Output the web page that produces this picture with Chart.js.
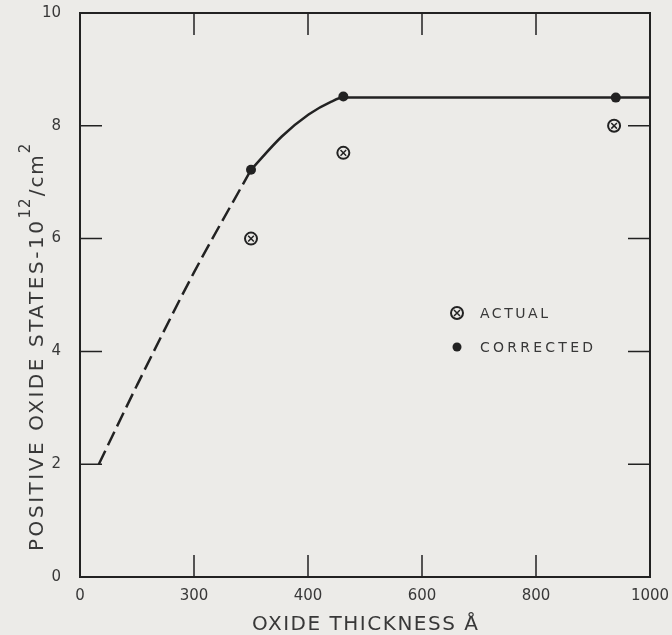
<!DOCTYPE html>
<html>
<head>
<meta charset="utf-8">
<script src="https://cdn.jsdelivr.net/npm/chart.js@4/dist/chart.umd.min.js"></script>
<style>
  html, body { margin: 0; padding: 0; background: #ecebe8; }
  #wrap { width: 672px; height: 635px; }
</style>
</head>
<body>
<div id="wrap"><canvas id="chart" width="672" height="635"></canvas></div>
<script>
// values
const xTickLabels = ['0', '300', '400', '600', '800', '1000'];
const yTickLabels = ['0', '2', '4', '6', '8', '10'];

const actualX = [300, 462, 937];
const actualY = [6.0, 7.52, 8.0];
const correctedX = [300, 462, 940];
const correctedY = [7.22, 8.52, 8.5];

// fitted curve: dashed lower part, solid upper part
const dashedX = [33, 100, 200, 300];
const dashedY = [2.0, 3.4, 5.4, 7.22];
const solidX = [300, 354, 401, 441, 462, 1000];
const solidY = [7.22, 7.81, 8.2, 8.43, 8.5, 8.5];

const ink = '#222';
const textInk = '#383838';
const FONT = '"DejaVu Sans"';
const pts = (xs, ys) => xs.map((x, i) => ({ x: x, y: ys[i] }));

// write text spread out to a given width (lettering on the original is wide)
function spaced(ctx, text, x, y, width) {
  ctx.letterSpacing = '0px';
  const w = ctx.measureText(text).width;
  const sp = Math.max(0, (width - w) / Math.max(1, text.length - 1));
  ctx.letterSpacing = sp + 'px';
  ctx.fillText(text, x, y);
  const out = ctx.measureText(text).width - sp;
  ctx.letterSpacing = '0px';
  return out + sp;
}

const framePlugin = {
  id: 'frame',
  afterDraw(chart) {
    const { ctx, chartArea: a, scales } = chart;
    ctx.save();
    ctx.strokeStyle = ink;
    ctx.lineWidth = 2;
    ctx.strokeRect(a.left, a.top, a.right - a.left, a.bottom - a.top);

    // inward ticks on all four sides
    ctx.lineWidth = 1.5;
    const len = 22;
    scales.x.ticks.forEach(t => {
      if (t.value <= 0 || t.value >= 1000) return;
      const px = scales.x.getPixelForValue(t.value);
      ctx.beginPath();
      ctx.moveTo(px, a.bottom); ctx.lineTo(px, a.bottom - len);
      ctx.moveTo(px, a.top); ctx.lineTo(px, a.top + len);
      ctx.stroke();
    });
    scales.y.ticks.forEach(t => {
      if (t.value <= 0 || t.value >= 10) return;
      const py = scales.y.getPixelForValue(t.value);
      ctx.beginPath();
      ctx.moveTo(a.left, py); ctx.lineTo(a.left + len, py);
      ctx.moveTo(a.right, py); ctx.lineTo(a.right - len, py);
      ctx.stroke();
    });

    // legend
    const lx = 457, ly1 = 313, ly2 = 347;
    ctx.lineWidth = 2;
    ctx.beginPath(); ctx.arc(lx, ly1, 6, 0, Math.PI * 2); ctx.stroke();
    ctx.lineWidth = 1.5;
    ctx.beginPath();
    ctx.moveTo(lx - 3, ly1 - 3); ctx.lineTo(lx + 3, ly1 + 3);
    ctx.moveTo(lx + 3, ly1 - 3); ctx.lineTo(lx - 3, ly1 + 3);
    ctx.stroke();
    ctx.fillStyle = ink;
    ctx.beginPath(); ctx.arc(lx, ly2, 4.5, 0, Math.PI * 2); ctx.fill();

    ctx.fillStyle = textInk;
    ctx.textAlign = 'left';
    ctx.textBaseline = 'alphabetic';
    ctx.font = '14px ' + FONT;
    spaced(ctx, 'ACTUAL', 480, 318, 68);
    spaced(ctx, 'CORRECTED', 480, 352, 113);

    // x axis title
    ctx.font = '20px ' + FONT;
    spaced(ctx, 'OXIDE THICKNESS Å', 252, 630, 226);

    // y axis title, rotated, with superscripts
    ctx.save();
    ctx.translate(43, 551);
    ctx.rotate(-Math.PI / 2);
    ctx.font = '20px ' + FONT;
    let cx = 0;
    cx += spaced(ctx, 'POSITIVE OXIDE STATES-10', 0, 0, 330);
    ctx.font = '15px ' + FONT;
    ctx.letterSpacing = '1px';
    ctx.fillText('12', cx, -13);
    cx += ctx.measureText('12').width + 1;
    ctx.font = '20px ' + FONT;
    ctx.letterSpacing = '2px';
    ctx.fillText('/cm', cx, 0);
    cx += ctx.measureText('/cm').width;
    ctx.font = '15px ' + FONT;
    ctx.letterSpacing = '0px';
    ctx.fillText('2', cx, -13);
    ctx.restore();

    ctx.restore();
  }
};

new Chart(document.getElementById('chart'), {
  type: 'scatter',
  data: {
    datasets: [
      {
        type: 'line', data: pts(dashedX, dashedY),
        borderColor: ink, borderWidth: 2.5, borderDash: [15, 6],
        cubicInterpolationMode: 'monotone', pointRadius: 0, fill: false
      },
      {
        type: 'line', data: pts(solidX, solidY),
        borderColor: ink, borderWidth: 2.5,
        cubicInterpolationMode: 'monotone', pointRadius: 0, fill: false
      },
      {
        data: pts(actualX, actualY), pointStyle: 'crossRot', pointRadius: 4,
        pointBorderWidth: 1.5, pointBorderColor: ink
      },
      {
        data: pts(actualX, actualY), pointStyle: 'circle', pointRadius: 6,
        pointBorderWidth: 2, pointBorderColor: ink, pointBackgroundColor: 'rgba(0,0,0,0)'
      },
      {
        data: pts(correctedX, correctedY), pointStyle: 'circle', pointRadius: 5,
        pointBorderWidth: 0, pointBackgroundColor: ink
      }
    ]
  },
  options: {
    responsive: false,
    animation: false,
    layout: { padding: { top: 13, right: 22, left: 0, bottom: 0 } },
    plugins: { legend: { display: false }, tooltip: { enabled: false } },
    scales: {
      x: {
        type: 'linear', min: 0, max: 1000,
        afterFit: s => { s.height = 58; s.paddingLeft = 0; s.paddingRight = 0; },
        grid: { display: false },
        border: { display: true, color: ink, width: 2 },
        ticks: {
          stepSize: 200, padding: 2, color: textInk,
          font: { family: 'DejaVu Sans', size: 15 },
          callback: (v, i) => xTickLabels[i]
        }
      },
      y: {
        type: 'linear', min: 0, max: 10,
        afterFit: s => { s.width = 80; s.paddingTop = 0; s.paddingBottom = 0; },
        grid: { display: false },
        border: { display: true, color: ink, width: 2 },
        ticks: {
          stepSize: 2, padding: 11, color: textInk,
          font: { family: 'DejaVu Sans', size: 15 },
          callback: (v, i) => yTickLabels[i]
        }
      }
    }
  },
  plugins: [framePlugin]
});
</script>
</body>
</html>
